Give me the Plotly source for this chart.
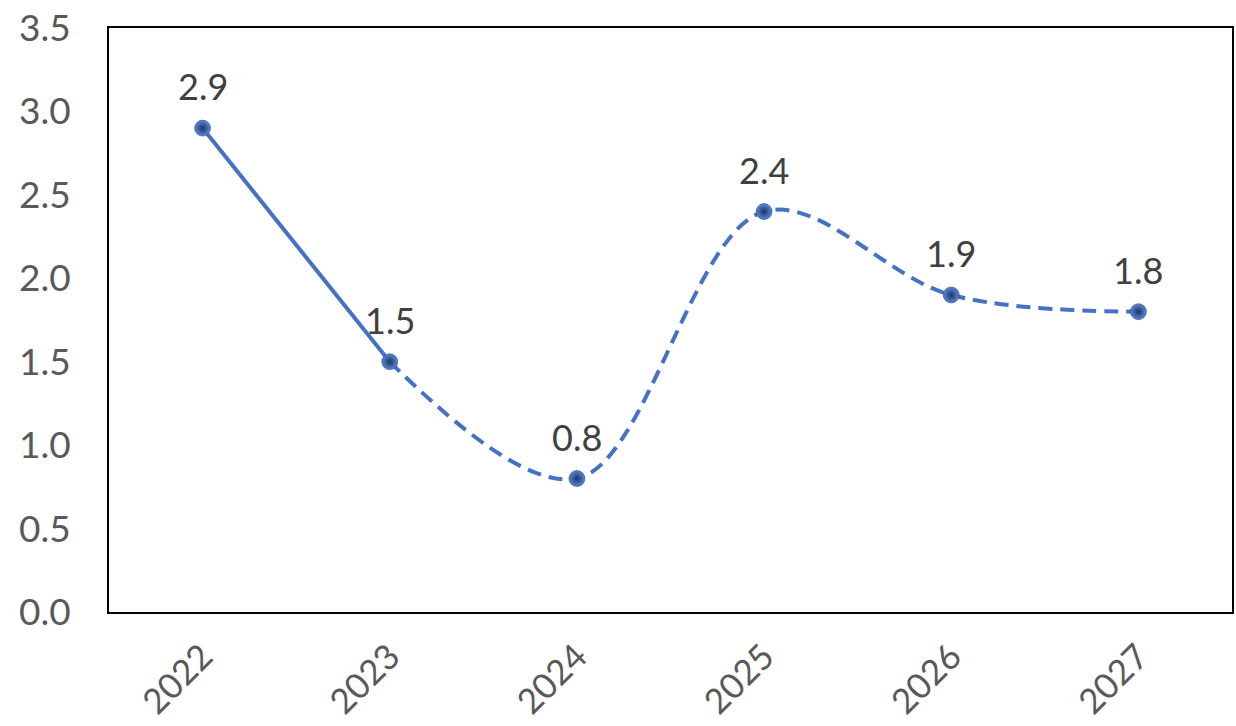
import plotly.graph_objects as go

# Annual values: first segment is actual, the rest is projected
years = ["2022", "2023", "2024", "2025", "2026", "2027"]
values = [2.9, 1.5, 0.8, 2.4, 1.9, 1.8]
y_ticks = [0.0, 0.5, 1.0, 1.5, 2.0, 2.5, 3.0, 3.5]

LINE = "#4472C4"
FONT = "Lato"

fig = go.Figure()

# actual part (solid)
fig.add_trace(go.Scatter(
    x=years[:2], y=values[:2], mode="lines",
    line=dict(color=LINE, width=4, shape="spline", smoothing=1.0),
    hoverinfo="skip", showlegend=False,
))
# projected part (dashed)
fig.add_trace(go.Scatter(
    x=years[1:], y=values[1:], mode="lines",
    line=dict(color=LINE, width=4, dash="14px,8px", shape="spline", smoothing=1.0),
    hoverinfo="skip", showlegend=False,
))
# point markers
fig.add_trace(go.Scatter(
    x=years, y=values, mode="markers",
    marker=dict(size=16, color="#5A88DA",
                gradient=dict(type="radial", color="#1B3565"),
                line=dict(color="#1F3864", width=0.5)),
    showlegend=False,
))

# value labels above each point
annotations = [
    dict(x=i, y=v, xref="x", yref="y", text=f"{v:.1f}", showarrow=False,
         yshift=42, font=dict(family=FONT, size=36, color="#404040"))
    for i, v in enumerate(values)
]

fig.update_layout(
    width=1236, height=726,
    margin=dict(l=109, r=4, t=28, b=114, autoexpand=False),
    paper_bgcolor="white", plot_bgcolor="white",
    font=dict(family=FONT, color="#595959"),
    annotations=annotations,
)
fig.update_xaxes(
    type="category", range=[-0.5, 5.5], automargin=False,
    tickangle=-45, tickfont=dict(family=FONT, size=35, color="#595959"),
    showgrid=False, showline=True, linecolor="black", linewidth=2, mirror=True,
    ticks="", ticklabelstandoff=8,
)
fig.update_yaxes(
    range=[0, 3.5], tickvals=y_ticks, automargin=False,
    ticktext=[f"{t:.1f}" for t in y_ticks],
    tickfont=dict(family=FONT, size=37, color="#595959"),
    showgrid=False, zeroline=False,
    showline=True, linecolor="black", linewidth=2, mirror=True,
    ticks="", ticklabelstandoff=29,
)

fig.write_html("out.html")
